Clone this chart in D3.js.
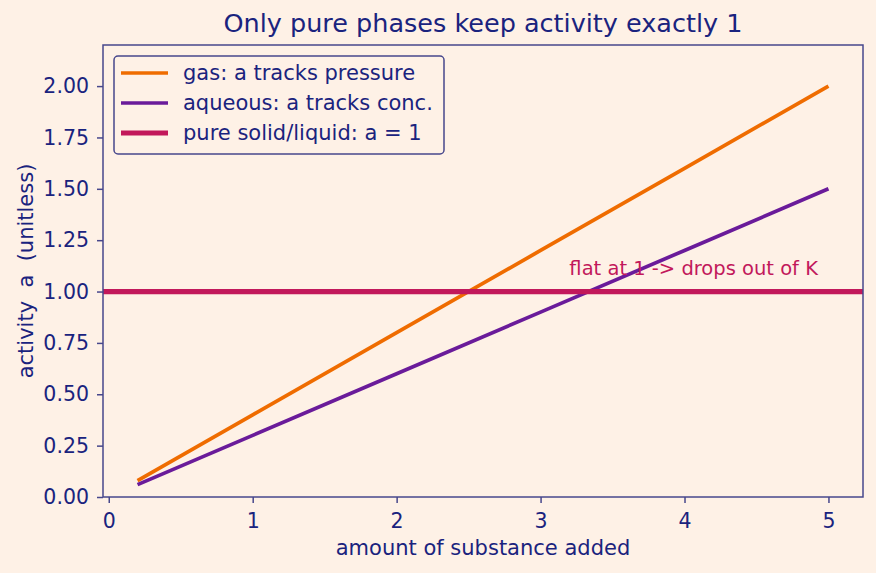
<!DOCTYPE html>
<html>
<head>
<meta charset="utf-8">
<script src="https://cdn.jsdelivr.net/npm/d3@7"></script>
<style>
  body { margin: 0; background: #fef1e6; }
  text { font-family: "DejaVu Sans", sans-serif; fill: #1a237e; }
</style>
</head>
<body>
<figure id="activity" style="margin:0"></figure>
<script>
// data
var amounts = [0.2, 1, 2, 3, 4, 5];
var gasActivity = [0.08, 0.4, 0.8, 1.2, 1.6, 2.0];
var aqueousActivity = [0.06, 0.3, 0.6, 0.9, 1.2, 1.5];
var pureActivity = 1;
var xTicks = [0, 1, 2, 3, 4, 5];
var yTicks = [0, 0.25, 0.5, 0.75, 1.0, 1.25, 1.5, 1.75, 2.0];
var legendLabels = ["gas: a tracks pressure", "aqueous: a tracks conc.", "pure solid/liquid: a = 1"];

var ink = "#1a237e", spine = "#47478c";
var colors = ["#ef6c00", "#6a1b9a", "#c2185b"];
var widths = [3.7, 3.7, 5.2];

// set the dimensions and margins of the graph
var margin = {top: 45, right: 13, bottom: 76, left: 103},
  width = 876 - margin.left - margin.right,
  height = 573 - margin.top - margin.bottom;

var svg = d3.select("figure#activity")
.append("svg")
  .attr("width", 876)
  .attr("height", 573)
.append("g")
  .attr("transform", "translate(" + margin.left + "," + margin.top + ")");

var x = d3.scaleLinear().domain([-0.04, 5.24]).range([0, width]);
var y = d3.scaleLinear().domain([0, 2.2]).range([height, 0]);

// axes
var xAxis = svg.append("g")
  .attr("transform", "translate(0," + height + ")")
  .call(d3.axisBottom(x).tickValues(xTicks).tickFormat(d3.format("d")).tickSize(6).tickSizeOuter(0));
var yAxis = svg.append("g")
  .call(d3.axisLeft(y).tickValues(yTicks).tickFormat(d3.format(".2f")).tickSize(6).tickSizeOuter(0));
[xAxis, yAxis].forEach(function(a) {
  a.select(".domain").remove();
  a.selectAll("line").attr("stroke", spine).attr("stroke-width", 1.5);
  a.selectAll("text").style("font-size", "20.5px").attr("fill", ink);
});
xAxis.selectAll("text").attr("dy", 0).attr("y", 31);
yAxis.selectAll("text").attr("x", -14);

// lines
var line = d3.line()
  .x(function(d) { return x(d[0]); })
  .y(function(d) { return y(d[1]); });

svg.append("path")
  .datum(amounts.map(function(a, i) { return [a, gasActivity[i]]; }))
  .attr("d", line).attr("fill", "none")
  .attr("stroke", colors[0]).attr("stroke-width", widths[0]);
svg.append("path")
  .datum(amounts.map(function(a, i) { return [a, aqueousActivity[i]]; }))
  .attr("d", line).attr("fill", "none")
  .attr("stroke", colors[1]).attr("stroke-width", widths[1]);
svg.append("line")
  .attr("x1", 0).attr("x2", width)
  .attr("y1", y(pureActivity)).attr("y2", y(pureActivity))
  .attr("stroke", colors[2]).attr("stroke-width", widths[2]);

// annotation
svg.append("text")
  .attr("x", x(3.2)).attr("y", y(1.08))
  .style("font-size", "19.5px").style("fill", colors[2])
  .text("flat at 1 -> drops out of K");

// frame
svg.append("rect")
  .attr("width", width).attr("height", height)
  .attr("fill", "none").attr("stroke", spine).attr("stroke-width", 1.5);

// legend
var legend = svg.append("g").attr("transform", "translate(11,11)");
legend.append("rect")
  .attr("width", 330).attr("height", 98).attr("rx", 4)
  .attr("fill", "#fef1e6").attr("stroke", spine).attr("stroke-width", 1.5);
legendLabels.forEach(function(lbl, i) {
  var g = legend.append("g").attr("transform", "translate(0," + (17 + i * 30) + ")");
  g.append("line").attr("x1", 7).attr("x2", 54)
    .attr("stroke", colors[i]).attr("stroke-width", widths[i]);
  g.append("text").attr("x", 69).attr("dy", "0.35em")
    .style("font-size", "21px").text(lbl);
});

// labels
svg.append("text")
  .attr("x", width / 2).attr("y", -13)
  .attr("text-anchor", "middle").style("font-size", "25.5px")
  .text("Only pure phases keep activity exactly 1");
svg.append("text")
  .attr("x", width / 2).attr("y", height + 58)
  .attr("text-anchor", "middle").style("font-size", "21px")
  .text("amount of substance added");
svg.append("text")
  .attr("transform", "translate(-70," + height / 2 + ") rotate(-90)")
  .attr("text-anchor", "middle").style("font-size", "21px")
  .attr("xml:space", "preserve").style("white-space", "pre")
  .text("activity  a  (unitless)");
</script>
</body>
</html>
